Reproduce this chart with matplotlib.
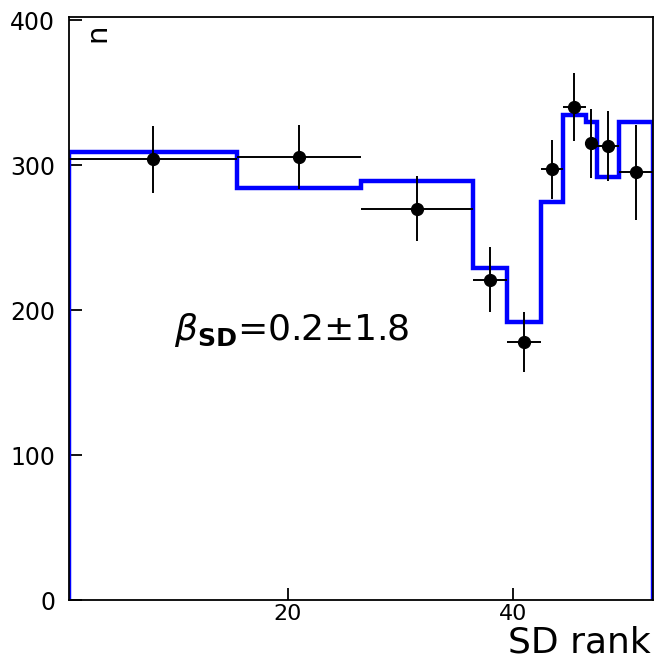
import numpy as np
import matplotlib
matplotlib.use("Agg")
import matplotlib.pyplot as plt

# bin edges of the SD rank histogram (shared by data and fit)
bin_edges = [0.5, 15.5, 26.5, 36.5, 39.5, 42.5, 44.5, 46.5, 47.5, 49.5, 52.5]

# blue histogram (fit)
fit_values = [309, 284, 289, 229, 192, 274.5, 334.5, 330, 292, 330]

# data points, one per bin
data_x = [8, 21, 31.5, 38, 41, 43.5, 45.5, 47, 48.5, 51]
data_y = [304, 305.5, 270, 221, 178, 297, 340, 315, 313, 295]
data_err = [23, 22, 22.5, 22.5, 21, 20.5, 23.5, 24, 24, 33]

x_ticks = [20, 40]
y_ticks = [0, 100, 200, 300, 400]

plt.rcParams['font.family'] = ['DejaVu Sans']

fig = plt.figure(figsize=(6.57, 6.6), dpi=100)
ax = fig.add_axes([0.105, 0.0909, 0.889, 0.883])

edges = np.array(bin_edges)
x_lo = np.array(data_x) - edges[:-1]
x_hi = edges[1:] - np.array(data_x)

ax.stairs(fit_values, edges, baseline=0, color='#0000ff', lw=3.2, zorder=2)
ax.errorbar(data_x, data_y, yerr=data_err, xerr=[x_lo, x_hi], fmt='o',
            color='black', ms=8.5, elinewidth=1.4, capsize=0, zorder=3)

ax.set_xlim(0.5, 52.5)
ax.set_ylim(0, 402)
ax.set_xticks(x_ticks)
ax.set_yticks(y_ticks)
ax.tick_params(direction='in', length=9, width=1.3, labelsize=17, pad=10)
ax.tick_params(axis='x', labelsize=16, pad=3)
for s in ax.spines.values():
    s.set_linewidth(1.3)

ax.text(0.18, 0.446, r'$\beta_{\mathbf{SD}}$=0.2$\pm$1.8', transform=ax.transAxes,
        fontsize=26, va='baseline', ha='left')
ax.text(0.048, 0.99, 'n', transform=ax.transAxes, rotation=90,
        fontsize=21, va='top', ha='center')
fig.text(0.99, 0.012, 'SD rank', fontsize=26, ha='right', va='baseline')

fig.savefig('out.png', dpi=100)
